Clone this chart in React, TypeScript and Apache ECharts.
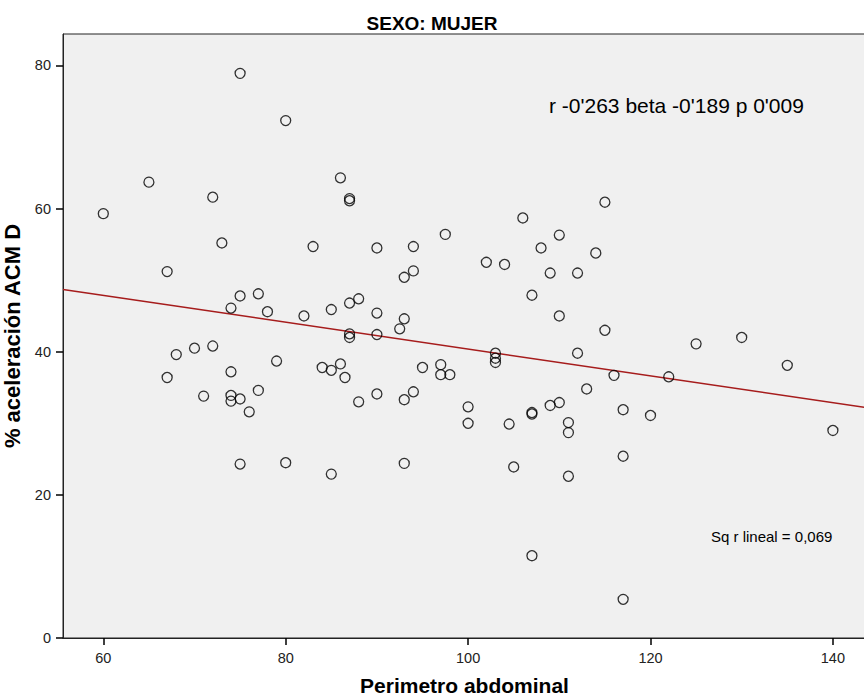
import React, { useEffect, useRef } from "react";
import * as echarts from "echarts";

const perimetro = [
  60, 65, 67, 67, 68, 70, 71, 72, 72, 73, 74, 74, 74, 74, 75, 75, 75, 75, 76, 77,
  77, 78, 79, 80, 80, 82, 83, 84, 85, 85, 85, 86, 86, 86.5, 87, 87, 87, 87, 87, 88,
  88, 90, 90, 90, 90, 92.5, 93, 93, 93, 93, 94, 94, 94, 95, 97, 97, 97.5, 98, 100, 100,
  102, 103, 103, 103, 104, 104.5, 105, 106, 107, 107, 107, 107, 108, 109, 109, 110, 110, 110, 111, 111,
  111, 112, 112, 113, 114, 115, 115, 116, 117, 117, 117, 120, 122, 125, 130, 135, 140,
];
const aceleracion = [
  59.3, 63.7, 51.2, 36.4, 39.6, 40.5, 33.8, 61.6, 40.8, 55.2, 46.1, 37.2, 33.9, 33.1, 78.9, 47.8, 33.4, 24.3, 31.6, 48.1,
  34.6, 45.6, 38.7, 72.3, 24.5, 45.0, 54.7, 37.8, 45.9, 37.4, 22.9, 64.3, 38.3, 36.4, 61.4, 61.1, 46.8, 42.5, 42.0, 47.4,
  33.0, 54.5, 45.4, 42.4, 34.1, 43.2, 50.4, 44.6, 33.3, 24.4, 54.7, 51.3, 34.4, 37.8, 38.2, 36.8, 56.4, 36.8, 32.3, 30.0,
  52.5, 39.8, 39.1, 38.5, 52.2, 29.9, 23.9, 58.7, 47.9, 31.5, 31.3, 11.5, 54.5, 51.0, 32.5, 56.3, 45.0, 32.9, 30.1, 28.7,
  22.6, 51.0, 39.8, 34.8, 53.8, 60.9, 43.0, 36.7, 31.9, 25.4, 5.4, 31.1, 36.5, 41.1, 42.0, 38.1, 29.0,
];
const fitX = [55.58, 143.63];
const fitY = [48.7, 32.2];
const xTicks = [60, 80, 100, 120, 140];
const yTicks = [0, 20, 40, 60, 80];

const FONT = "Arial, 'Liberation Sans', sans-serif";

export default function App() {
  const ref = useRef<HTMLDivElement>(null);
  useEffect(() => {
    if (!ref.current) return;
    const chart = echarts.init(ref.current, null, { renderer: "svg" });
    const points = perimetro.map((x, i) => [x, aceleracion[i]]);
    chart.setOption({
      animation: false,
      backgroundColor: "#ffffff",
      title: {
        text: "SEXO: MUJER",
        left: "center",
        top: 9,
        textStyle: { fontFamily: FONT, fontSize: 19, fontWeight: "bold", color: "#000" },
      },
      grid: {
        left: 63,
        top: 34,
        width: 803,
        height: 604,
        containLabel: false,
        outerBoundsMode: "none",
        show: true,
        backgroundColor: "#f0f0f0",
        borderColor: "#222",
        borderWidth: 1,
      },
      xAxis: {
        type: "value",
        min: fitX[0],
        max: fitX[1],
        name: "Perimetro abdominal",
        nameLocation: "middle",
        nameGap: 37,
        nameTextStyle: { fontFamily: FONT, fontSize: 21, fontWeight: "bold", color: "#000" },
        splitLine: { show: false },
        axisLine: { show: true, lineStyle: { color: "#222", width: 1 } },
        axisTick: { show: true, length: 7, customValues: xTicks, lineStyle: { color: "#000", width: 1.5 } },
        axisLabel: { customValues: xTicks, margin: 12, fontFamily: FONT, fontSize: 14.5, color: "#222" },
      },
      yAxis: {
        type: "value",
        min: 0,
        max: 84.4,
        name: "% aceleración ACM D",
        nameLocation: "middle",
        nameRotate: 90,
        nameGap: 32,
        nameTextStyle: { fontFamily: FONT, fontSize: 22, fontWeight: "bold", color: "#000" },
        splitLine: { show: false },
        axisLine: { show: true, lineStyle: { color: "#222", width: 1 } },
        axisTick: { show: true, length: 7, customValues: yTicks, lineStyle: { color: "#000", width: 1.5 } },
        axisLabel: { customValues: yTicks, margin: 12, fontFamily: FONT, fontSize: 14.5, color: "#222" },
      },
      series: [
        {
          type: "line",
          data: [
            [fitX[0], fitY[0]],
            [fitX[1], fitY[1]],
          ],
          symbol: "none",
          lineStyle: { color: "#a61c1c", width: 1.5 },
          z: 2,
        },
        {
          type: "scatter",
          data: points,
          symbol: "circle",
          symbolSize: 10,
          itemStyle: { color: "rgba(0,0,0,0)", borderColor: "#000", borderWidth: 1.3 },
          z: 3,
        },
      ],
      graphic: [
        {
          type: "text",
          left: 549,
          top: 95,
          style: { text: "r -0'263 beta -0'189 p 0'009", fontFamily: FONT, fontSize: 21, fill: "#000" },
        },
        {
          type: "text",
          left: 711,
          top: 529,
          style: { text: "Sq r lineal = 0,069", fontFamily: FONT, fontSize: 15, fill: "#000" },
        },
      ],
    });
    return () => chart.dispose();
  }, []);
  return (
    <div
      ref={ref}
      style={{ position: "fixed", left: 0, top: 0, width: 864, height: 699 }}
    />
  );
}
